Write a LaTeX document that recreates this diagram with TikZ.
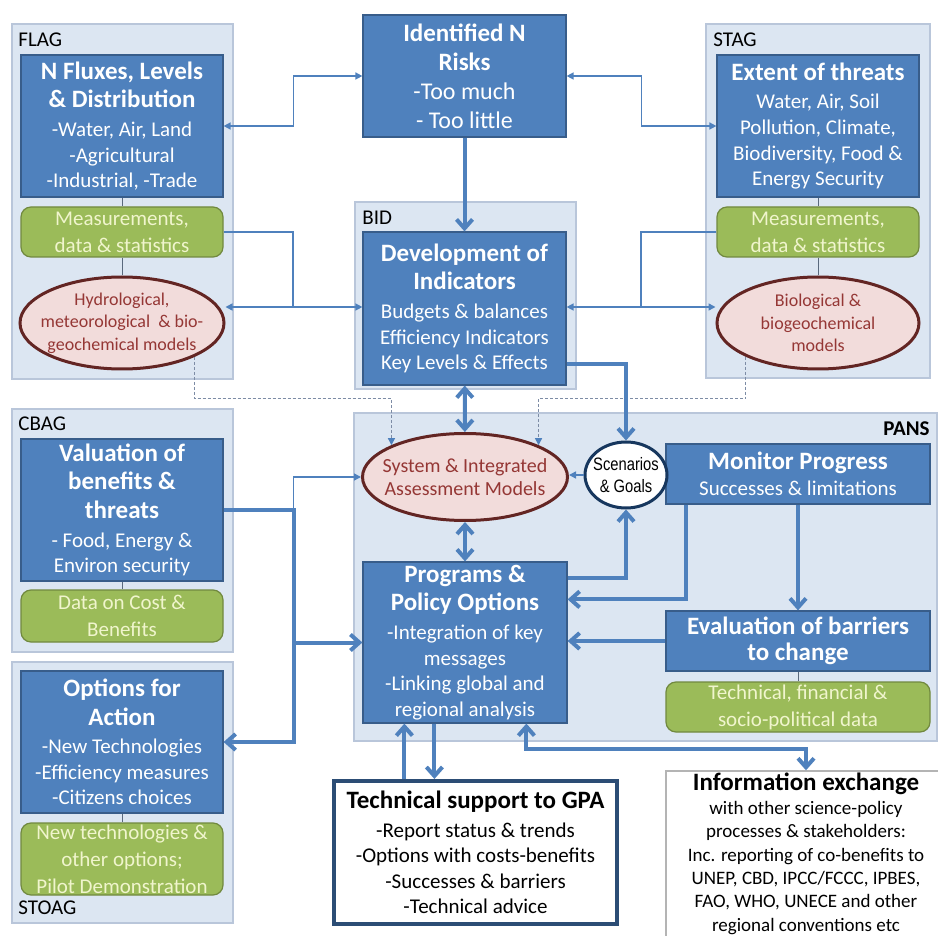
\documentclass[tikz,border=0pt]{standalone}
\usepackage{fontspec}
\setmainfont{Carlito}
\newfontfamily\narrowfont[FakeStretch=0.82]{Liberation Sans}
\usetikzlibrary{
		calc,
		positioning,
		shapes.geometric,
		arrows.meta
	}

\definecolor{panelfill}{RGB}{220,230,242}
\definecolor{panelline}{RGB}{185,198,218}
\definecolor{boxblue}{RGB}{79,129,189}
\definecolor{boxline}{RGB}{56,93,138}
\definecolor{datagreen}{RGB}{155,187,89}
\definecolor{dataline}{RGB}{113,137,63}
\definecolor{datatext}{RGB}{240,245,205}
\definecolor{modelfill}{RGB}{242,220,219}
\definecolor{modelline}{RGB}{99,37,35}
\definecolor{modeltext}{RGB}{149,55,53}
\definecolor{linkblue}{RGB}{79,129,189}
\definecolor{stemgray}{RGB}{90,105,125}
\definecolor{scenline}{RGB}{23,55,94}
\definecolor{techline}{RGB}{44,77,117}
\definecolor{infoline}{RGB}{180,180,180}
\definecolor{dashgray}{RGB}{125,140,165}

\newcommand{\ttl}{\fontsize{12.5}{14.5}\selectfont\bfseries}
\newcommand{\bdy}{\fontsize{10.5}{12.8}\selectfont}

\tikzset{
		>={Triangle[length=3.5pt,width=3.5pt]},
		wh/.style 2 args={minimum width=#1*0.5pt, minimum height=#2*0.5pt},
		panel/.style={fill=panelfill, draw=panelline, line width=0.7pt},
		tag/.style={anchor=west, inner sep=0pt, font=\fontsize{10.5}{12}\selectfont},
		bluebox/.style={rectangle, fill=boxblue, draw=boxline, line width=0.6pt,
			text=white, align=center, inner sep=0pt, font=\bdy},
		databox/.style={rectangle, rounded corners=5pt, fill=datagreen, draw=dataline,
			line width=0.6pt, text=datatext, align=center, inner sep=0pt,
			font=\fontsize{10.5}{13.5}\selectfont},
		model/.style={ellipse, fill=modelfill, draw=modelline, line width=1.5pt,
			text=modeltext, align=center, inner xsep=-15pt, inner ysep=-8pt,
			font=\fontsize{9}{11.25}\selectfont},
		goal/.style={ellipse, fill=white, draw=scenline, line width=1.5pt,
			align=center, inner xsep=-6pt, inner ysep=-4pt,
			font=\fontsize{9}{11}\narrowfont},
		plainbox/.style={rectangle, fill=white, align=center, inner sep=0pt, font=\bdy},
		stem/.style={draw=stemgray, line width=0.5pt},
		link/.style={draw=linkblue, line width=0.75pt},
		hint/.style={draw=dashgray, line width=0.6pt, dash pattern=on 1.5pt off 1pt,
			>={Triangle[length=3.5pt,width=3.5pt,color=linkblue]}},
		flow/.style={draw=linkblue, line width=2pt,
			>={Straight Barb[length=4.5pt,width=8pt]}}
	}

\begin{document}
\begin{tikzpicture}[x=0.5pt,y=-0.5pt]
  \useasboundingbox (0,0) rectangle (938,936);
  \clip (0,0) rectangle (938,936);

  % the group panels
  \filldraw[panel] (12,24) rectangle (233,379);
  \filldraw[panel] (706,24) rectangle (930,378);
  \filldraw[panel] (355,202) rectangle (576,389);
  \filldraw[panel] (12,409) rectangle (233,652);
  \filldraw[panel] (12,662) rectangle (233,923);
  \filldraw[panel] (354,413) rectangle (937,741);

  % the panel names
  \node[tag] (flag) at (18,40) {FLAG};
  \node[tag] (stag) at (713,40) {STAG};
  \node[tag] (bid) at (362,218) {BID};
  \node[tag] (cbag) at (18,424) {CBAG};
  \node[tag] (stoag) at (18,908) {STOAG};
  \node[tag, anchor=east, font=\fontsize{10.5}{12}\selectfont\bfseries] (pans) at (930,429) {PANS};

  % the blue boxes
  \node[bluebox, wh={203}{122}, font=\fontsize{12}{14.5}\selectfont] (risks) at (464.5,76)
    {\ttl Identified N\\\ttl Risks\\-Too much\\- Too little};
  \node[bluebox, wh={202}{142}] (flux) at (122,126)
    {\ttl N Fluxes, Levels\\[1.5pt]\ttl \& Distribution\\[1.5pt]-Water, Air, Land\\-Agricultural\\-Industrial, -Trade};
  \node[bluebox, wh={202}{142}] (extent) at (818,126)
    {\ttl Extent of threats\\[1.5pt]Water, Air, Soil\\Pollution, Climate,\\Biodiversity, Food \&\\Energy Security};
  \node[bluebox, wh={203}{153}] (indic) at (464.5,308.5)
    {\ttl Development of\\[1.5pt]\ttl Indicators\\[1.5pt]Budgets \& balances\\Efficiency Indicators\\Key Levels \& Effects};
  \node[bluebox, wh={202}{142}] (valuation) at (122,510)
    {\ttl Valuation of\\[1.5pt]\ttl benefits \&\\[1.5pt]\ttl threats\\[1.5pt]- Food,  Energy \&\\Environ security};
  \node[bluebox, wh={202}{142}] (options) at (122,742)
    {\ttl Options for\\[1.5pt]\ttl Action\\[1.5pt]-New Technologies\\-Efficiency measures\\-Citizens choices};
  \node[bluebox, wh={204}{161}] (programs) at (465,642.5)
    {\ttl Programs \&\\[1.5pt]\ttl Policy Options\\[1.5pt]-Integration of key\\messages\\-Linking global and\\regional analysis};
  \node[bluebox, wh={264}{60}] (monitor) at (798,474)
    {\ttl Monitor Progress\\Successes \& limitations};
  \node[bluebox, wh={264}{60}] (barriers) at (798,641)
    {\ttl Evaluation of barriers\\\ttl to change};

  % the green data boxes
  \node[databox, wh={202}{50}] (fluxdata) at (122,232) {Measurements,\\data \& statistics};
  \node[databox, wh={202}{50}] (extentdata) at (818,232) {Measurements,\\data \& statistics};
  \node[databox, wh={202}{52}] (costdata) at (122,616) {Data on Cost \&\\Benefits};
  \node[databox, wh={202}{72}] (optionsdata) at (122,859) {New technologies \&\\other options;\\Pilot Demonstration};
  \node[databox, wh={264}{50}] (barrierdata) at (798,707) {Technical, financial \&\\socio-political data};

  % the models
  \node[model, wh={204}{92}] (hydro) at (122,323) {Hydrological,\\meteorological\ \ \& bio-\\geochemical models};
  \node[model, wh={202}{92}] (bio) at (818,323) {Biological \&\\biogeochemical\\models};
  \node[model, wh={205}{87}, font=\fontsize{10}{11.5}\selectfont] (system) at (465,477) {System \& Integrated\\Assessment Models};
  \node[goal, wh={82}{66}] (scen) at (626,475) {Scenarios\\\& Goals};

  % the boxes below
  \node[plainbox, draw=techline, line width=2pt, wh={283}{143}] (tech) at (475.5,852.5)
    {\ttl Technical support to GPA\\[1.5pt]-Report status \& trends\\-Options with costs-benefits\\-Successes \& barriers\\-Technical advice};
  \node[plainbox, draw=infoline, line width=0.7pt, wh={280}{166}, font=\fontsize{9.5}{11.7}\selectfont] (info) at (806,854)
    {\ttl Information exchange\\with other science-policy\\processes \& stakeholders:\\Inc. reporting of co-benefits to\\UNEP, CBD, IPCC/FCCC, IPBES,\\FAO, WHO, UNECE and other\\regional conventions etc};

  % boxes and their data
  \draw[stem] (flux) -- (fluxdata);
  \draw[stem] (fluxdata) -- (hydro);
  \draw[stem] (extent) -- (extentdata);
  \draw[stem] (extentdata) -- (bio);
  \draw[stem] (valuation) -- (costdata);
  \draw[stem] (options) -- (optionsdata);
  \draw[stem] (barriers) -- (barrierdata);

  % thin links at the top
  \draw[link,<->] (flux.east) -- ++(70,0) |- (risks.west);
  \draw[link,<->] (risks.east) -- ++(75,0) |- (extent.west);
  \coordinate (fluxjoin) at (293,307);
  \coordinate (extentjoin) at (641,307);
  \draw[link] (fluxdata.east) -| (fluxjoin);
  \draw[link,->] (fluxjoin) -- (hydro.east |- fluxjoin);
  \draw[link,->] (fluxjoin) -- (indic.west |- fluxjoin);
  \draw[link] (extentdata.west) -| (extentjoin);
  \draw[link,->] (extentjoin) -- (indic.east |- extentjoin);
  \draw[link,->] (extentjoin) -- (bio.west |- extentjoin);

  % dashed hints to the system models
  \draw[hint,->] (hydro.-25) -- ++(0,42) -| (system.north west);
  \draw[hint,->] (bio.-155) -- ++(0,42) -| (system.north east);

  % the thick flows
  \draw[flow,->] (risks) -- (indic);
  \draw[flow,<->] (indic) -- (system);
  \draw[flow,<->] (system) -- (programs);
  \draw[flow,->] ($(indic.south east)+(0,-22)$) -| (scen.north);
  \draw[link,->] (scen.west) -- (system.east |- scen.west);
  \draw[flow,->] ($(programs.north east)+(0,17)$) -| (scen.south);
  \draw[flow,->] ($(monitor.south west)+(21,0)$) |- ($(programs.north east)+(0,38)$);
  \draw[flow,->] (barriers.west) -- (programs.east |- barriers.west);
  \draw[flow,->] (monitor) -- (barriers);

  % valuation to options and programs
  \coordinate (cbagturn) at ($(valuation.east)+(70,0)$);
  \draw[flow,->] (valuation.east) -- (cbagturn) |- (options.east);
  \draw[flow,->] (cbagturn |- programs.west) -- (programs.west);
  \draw[link,->] (cbagturn) |- (system.west);

  % support and exchange
  \coordinate (upfoot) at ($(programs.south west)+(42,0)$);
  \coordinate (downfoot) at ($(programs.south west)+(72,0)$);
  \draw[flow,->] (tech.north -| upfoot) -- (upfoot);
  \draw[flow,->] (downfoot) -- (tech.north -| downfoot);
  \draw[flow,<->] ($(programs.south west)+(164,0)$) -- ++(0,25) -| (info.north);

\end{tikzpicture}
\end{document}
